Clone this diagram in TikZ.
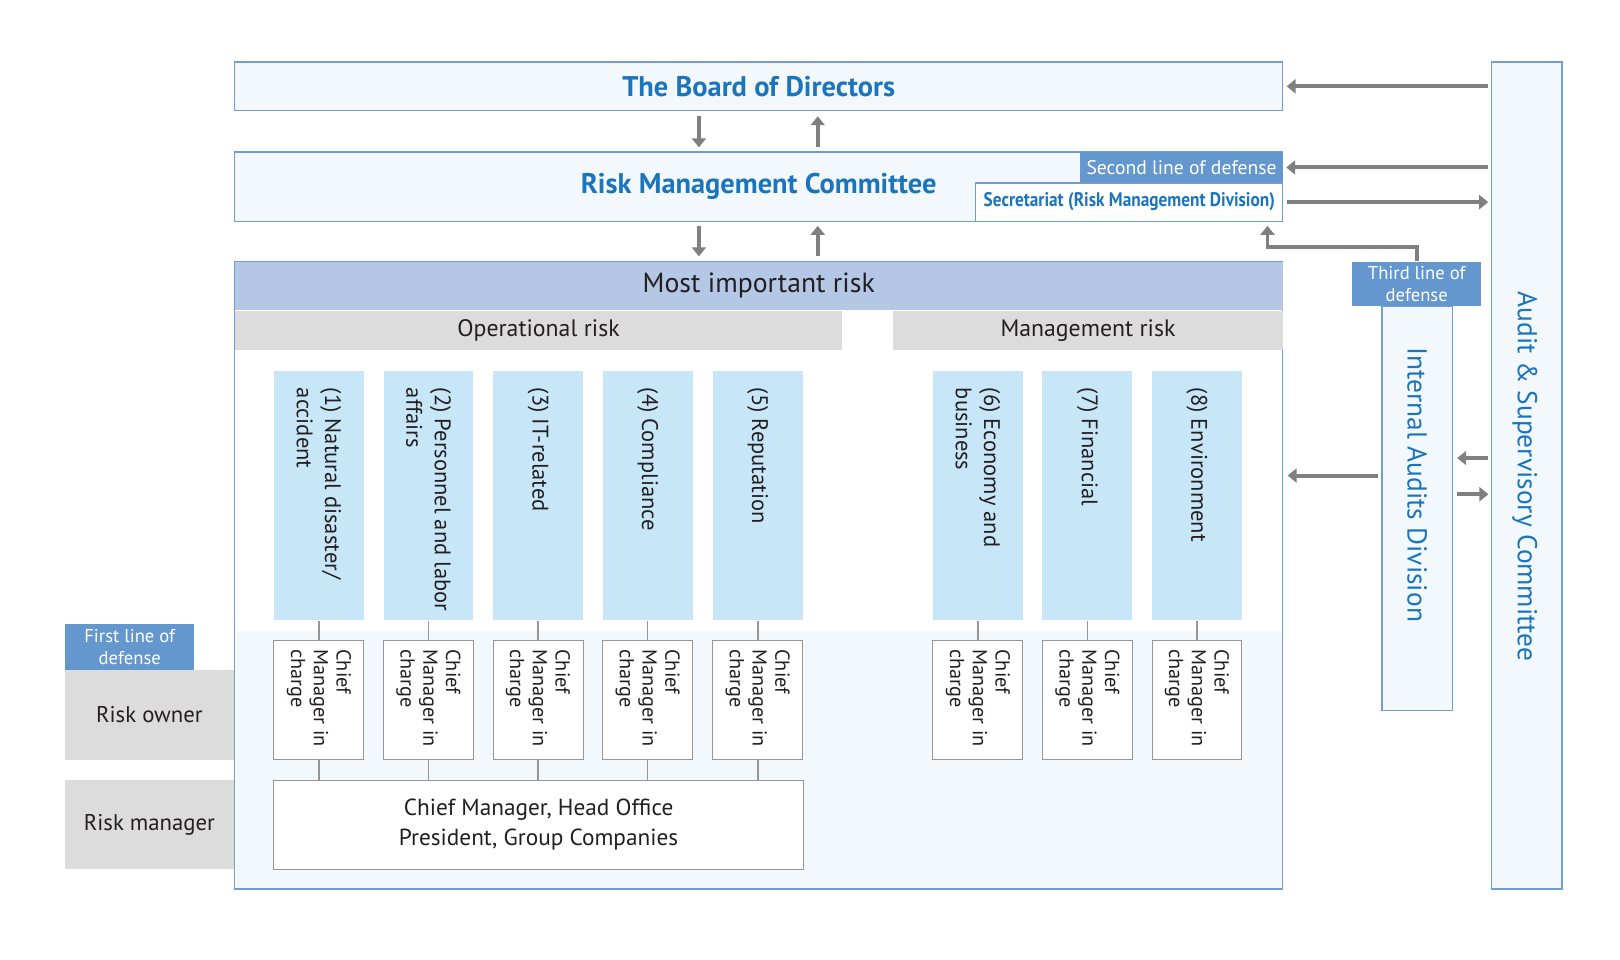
\documentclass[tikz,border=0pt]{standalone}
\usepackage{fontspec}
\setmainfont{PT Sans}
\newfontfamily\narrowfont[FakeStretch=0.88]{PT Sans}
\usetikzlibrary{arrows.meta,positioning}
\definecolor{bluetext}{RGB}{27,117,188}
\definecolor{frame}{RGB}{112,157,212}
\definecolor{tagblue}{RGB}{100,151,205}
\definecolor{pale}{RGB}{243,248,252}
\definecolor{headblue}{RGB}{180,200,230}
\definecolor{headgray}{RGB}{220,220,220}
\definecolor{colblue}{RGB}{199,230,248}
\definecolor{arrowgray}{RGB}{128,128,128}
\definecolor{linegray}{RGB}{150,150,150}
\definecolor{ink}{RGB}{35,31,32}

\begin{document}
\begin{tikzpicture}[
    x=1pt, y=-1pt, scale=1.0337,
    every node/.style={rectangle, inner sep=0pt, align=center, text=ink, transform shape},
    box/.style={draw=frame, line width=1.2pt, fill=pale},
    tag/.style={fill=tagblue, text=white, font=\fontsize{18}{21}\selectfont},
    header/.style={fill=headgray, font=\fontsize{23}{27}\selectfont},
    riskcol/.style={fill=colblue, minimum width=87pt, minimum height=241pt},
    chief/.style={draw=linegray, line width=1pt, fill=white, minimum width=87pt, minimum height=115pt},
    coltext/.style={rotate=-90, anchor=west, align=left, font=\fontsize{21.8}{27.5}\selectfont},
    cmtext/.style={rotate=-90, anchor=west, align=left, font=\fontsize{19.6}{22}\selectfont},
    title/.style={text=bluetext, font=\bfseries\fontsize{27.5}{32}\selectfont},
    vtitle/.style={rotate=-90, text=bluetext, font=\fontsize{26.5}{30}\selectfont},
    arrow/.style={-{Triangle[width=14pt,length=9pt]}, line width=4pt, draw=arrowgray},
    link/.style={draw=linegray, line width=1.5pt}
]
\useasboundingbox (0,0) rectangle (1567.2,928.7);

\node[box, title, minimum width=1014pt, minimum height=47pt] (board) at (734,83.5) {The Board of Directors};
\node[box, title, minimum width=1014pt, minimum height=67pt] (rmc) at (734,180.5) {Risk Management Committee};
\node[tag, minimum width=196pt, minimum height=30pt, font=\fontsize{19}{22}\selectfont] (second) at (1143,162) {Second line of defense};
\node[draw=frame, line width=1.2pt, fill=white, text=bluetext, font=\narrowfont\bfseries\fontsize{19}{22}\selectfont,
      minimum width=297pt, minimum height=37pt] (secr) at (1092.5,195.5) {Secretariat (Risk Management Division)};

\node[box, fill=white, minimum width=1014pt, minimum height=607pt] (area) at (734,556.5) {};
\fill[pale] (228,610) rectangle (1240,859.3);
\node[fill=headblue, minimum width=1014pt, minimum height=47pt, font=\fontsize{26.8}{30}\selectfont] (mir) at (734,276.5) {Most important risk};
\node[header, minimum width=588pt, minimum height=38pt] (oprisk) at (521,320) {Operational risk};
\node[header, minimum width=377pt, minimum height=38pt] (mgmtrisk) at (1052.5,320) {Management risk};

\node[riskcol] (c1) at (308.5,479.5) {};
\node[riskcol] (c2) at (414.5,479.5) {};
\node[riskcol] (c3) at (520.5,479.5) {};
\node[riskcol] (c4) at (626.5,479.5) {};
\node[riskcol] (c5) at (733,479.5) {};
\node[riskcol] (c6) at (946,479.5) {};
\node[riskcol] (c7) at (1052,479.5) {};
\node[riskcol] (c8) at (1158,479.5) {};
\node[coltext] (t1) at (308.5,375) {(1) Natural disaster/\\accident};
\node[coltext] (t2) at (414.5,375) {(2) Personnel and labor\\affairs};
\node[coltext] (t3) at (520.5,375) {(3) IT-related};
\node[coltext] (t4) at (626.5,375) {(4) Compliance};
\node[coltext] (t5) at (733,375) {(5) Reputation};
\node[coltext] (t6) at (946,375) {(6) Economy and\\business};
\node[coltext] (t7) at (1052,375) {(7) Financial};
\node[coltext] (t8) at (1158,375) {(8) Environment};

\node[chief] (m1) at (308.5,677.5) {};
\node[chief] (m2) at (414.5,677.5) {};
\node[chief] (m3) at (520.5,677.5) {};
\node[chief] (m4) at (626.5,677.5) {};
\node[chief] (m5) at (733,677.5) {};
\node[chief] (m6) at (946,677.5) {};
\node[chief] (m7) at (1052,677.5) {};
\node[chief] (m8) at (1158,677.5) {};
\node[cmtext] (n1) at (308.5,628) {Chief\\Manager in\\charge};
\node[cmtext] (n2) at (414.5,628) {Chief\\Manager in\\charge};
\node[cmtext] (n3) at (520.5,628) {Chief\\Manager in\\charge};
\node[cmtext] (n4) at (626.5,628) {Chief\\Manager in\\charge};
\node[cmtext] (n5) at (733,628) {Chief\\Manager in\\charge};
\node[cmtext] (n6) at (946,628) {Chief\\Manager in\\charge};
\node[cmtext] (n7) at (1052,628) {Chief\\Manager in\\charge};
\node[cmtext] (n8) at (1158,628) {Chief\\Manager in\\charge};

\node[chief, minimum width=512pt, minimum height=86pt, font=\fontsize{22.5}{29}\selectfont] (head) at (521,798) {Chief Manager, Head Office\\President, Group Companies};

\node[tag, minimum width=125pt, minimum height=44pt] (first) at (125.5,626) {First line of\\defense};
\node[fill=headgray, minimum width=163pt, minimum height=87pt, font=\fontsize{22}{26}\selectfont] (owner) at (144.5,691.5) {Risk owner};
\node[fill=headgray, minimum width=163pt, minimum height=86pt, font=\fontsize{22}{26}\selectfont] (manager) at (144.5,798) {Risk manager};

\node[box, minimum width=68pt, minimum height=391pt] (iad) at (1371,491.5) {};
\node[tag, minimum width=125pt, minimum height=43pt] (third) at (1370.5,274.5) {Third line of\\defense};
\node[vtitle] (iadtext) at (1371,469) {Internal Audits Division};
\node[box, minimum width=68pt, minimum height=800pt] (asc) at (1477,460) {};
\node[vtitle] (asctext) at (1475,461) {Audit \& Supervisory Committee};

\draw[link] (c1.south) -- (m1.north) (c2.south) -- (m2.north) (c3.south) -- (m3.north) (c4.south) -- (m4.north)
            (c5.south) -- (m5.north) (c6.south) -- (m6.north) (c7.south) -- (m7.north) (c8.south) -- (m8.north);
\draw[link] (m1.south) -- (m1.south |- head.north) (m2.south) -- (m2.south |- head.north) (m3.south) -- (m3.south |- head.north)
            (m4.south) -- (m4.south |- head.north) (m5.south) -- (m5.south |- head.north);

\draw[arrow, shorten <=5pt, shorten >=4pt] ([xshift=-58pt]board.south) -- ([xshift=-58pt]rmc.north);
\draw[arrow, shorten <=4pt, shorten >=5pt] ([xshift=57pt]rmc.north) -- ([xshift=57pt]board.south);
\draw[arrow, shorten <=4pt, shorten >=5pt] ([xshift=-58pt]rmc.south) -- ([xshift=-58pt]mir.north);
\draw[arrow, shorten <=5pt, shorten >=4pt] ([xshift=57pt]mir.north) -- ([xshift=57pt]rmc.south);

\draw[arrow, shorten <=3pt, shorten >=3pt] (asc.west |- board.east) -- (board.east);
\draw[arrow, shorten <=3pt, shorten >=3pt] (asc.west |- second.east) -- (second.east);
\draw[arrow, shorten <=3pt, shorten >=3pt] (secr.east) -- (asc.west |- secr.east);
\draw[arrow, shorten <=4pt, shorten >=4pt] (iad.west |- asc.west) -- (area.east |- asc.west);
\coordinate (up) at ([yshift=17pt]asc.west);
\coordinate (dn) at ([yshift=-18pt]asc.west);
\draw[arrow, shorten <=3pt, shorten >=4pt] (up) -- (up -| iad.east);
\draw[arrow, shorten <=4pt, shorten >=3pt] (dn -| iad.east) -- (dn);
\coordinate (bend) at (1226,239);
\draw[arrow, line width=3.5pt, shorten >=4pt] (third.north) |- (bend) -- (bend |- secr.south);

\end{tikzpicture}
\end{document}
